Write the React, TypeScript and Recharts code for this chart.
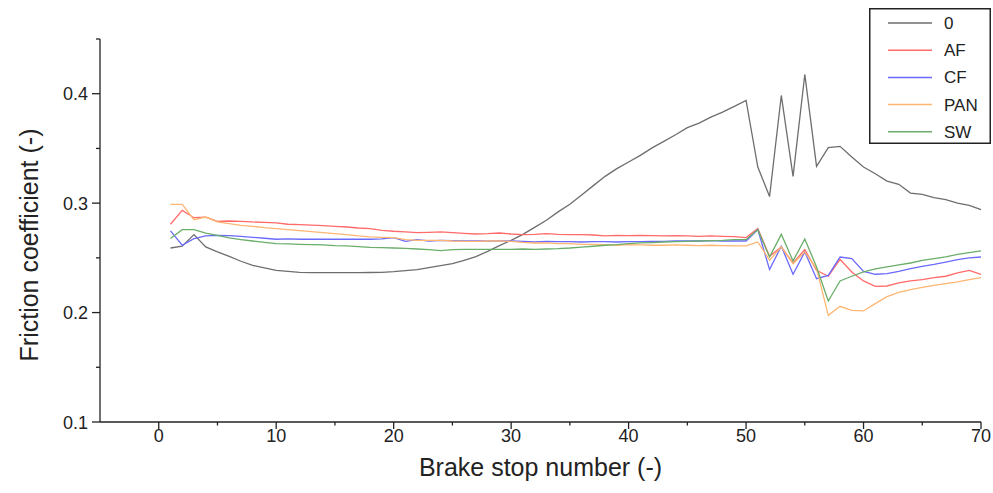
import React from 'react'
import { LineChart, Line, XAxis, YAxis, Legend } from 'recharts'

// Friction coefficient per brake stop, one array per fibre type
const stops = [
  1, 2, 3, 4, 5, 6, 7, 8, 9, 10, 11, 12, 13, 14, 15, 16, 17, 18, 19, 20,
  21, 22, 23, 24, 25, 26, 27, 28, 29, 30, 31, 32, 33, 34, 35, 36, 37, 38, 39, 40,
  41, 42, 43, 44, 45, 46, 47, 48, 49, 50, 51, 52, 53, 54, 55, 56, 57, 58, 59, 60,
  61, 62, 63, 64, 65, 66, 67, 68, 69, 70,
]

const ref0 = [
  0.259, 0.2606, 0.2712, 0.26, 0.2554, 0.2514, 0.2469, 0.2432, 0.2408, 0.2386,
  0.2377, 0.2368, 0.2365, 0.2365, 0.2365, 0.2365, 0.2365, 0.2366, 0.2368, 0.2374,
  0.2383, 0.2392, 0.241, 0.2429, 0.2447, 0.2478, 0.2511, 0.256, 0.2612, 0.266,
  0.2715, 0.2779, 0.2843, 0.292, 0.299, 0.3075, 0.316, 0.3245, 0.3315, 0.3376,
  0.3437, 0.3505, 0.3565, 0.3625, 0.369, 0.3732, 0.3786, 0.3832, 0.3884, 0.3939,
  0.333, 0.306, 0.3984, 0.3245, 0.4176, 0.3336, 0.3507, 0.3519, 0.3421, 0.333,
  0.3269, 0.3202, 0.3172, 0.3092, 0.308, 0.305, 0.3032, 0.3001, 0.298, 0.294,
]

const af = [
  0.2807, 0.2934, 0.2867, 0.2873, 0.2834, 0.2837, 0.2834, 0.2828, 0.2825, 0.2819,
  0.2807, 0.2803, 0.28, 0.2794, 0.2788, 0.2782, 0.2773, 0.2767, 0.2752, 0.2743,
  0.2737, 0.273, 0.2733, 0.2737, 0.273, 0.2724, 0.2718, 0.2721, 0.2727, 0.2718,
  0.2712, 0.2715, 0.2721, 0.2715, 0.2712, 0.2712, 0.2709, 0.27, 0.2706, 0.2703,
  0.2706, 0.2703, 0.27, 0.2703, 0.27, 0.2697, 0.27, 0.2697, 0.2694, 0.2685,
  0.2767, 0.2514, 0.26, 0.2453, 0.2575, 0.2386, 0.2332, 0.2487, 0.2371, 0.2289,
  0.224, 0.2243, 0.2271, 0.2289, 0.2301, 0.232, 0.2332, 0.2362, 0.2386, 0.235,
]

const cf = [
  0.2746, 0.2615, 0.2676, 0.27, 0.2706, 0.2703, 0.2697, 0.2688, 0.2679, 0.267,
  0.2673, 0.267, 0.267, 0.267, 0.267, 0.267, 0.267, 0.267, 0.2673, 0.2685,
  0.2651, 0.2666, 0.2654, 0.266, 0.2657, 0.2654, 0.2654, 0.2654, 0.2654, 0.2654,
  0.2651, 0.2645, 0.2651, 0.2648, 0.2648, 0.2645, 0.2648, 0.2648, 0.2645, 0.2648,
  0.2648, 0.2651, 0.2651, 0.2654, 0.2654, 0.2654, 0.2657, 0.2654, 0.2654, 0.2654,
  0.2758, 0.2393, 0.2606, 0.235, 0.2554, 0.231, 0.234, 0.2508, 0.2493, 0.2377,
  0.235, 0.2356, 0.2377, 0.2402, 0.2423, 0.2441, 0.2462, 0.2484, 0.2499, 0.2508,
]

const pan = [
  0.2989, 0.2989, 0.2849, 0.2873, 0.2828, 0.2813, 0.2797, 0.2788, 0.2776, 0.2767,
  0.2758, 0.2749, 0.274, 0.273, 0.2721, 0.2712, 0.27, 0.2691, 0.2688, 0.2685,
  0.2666, 0.266, 0.266, 0.266, 0.2654, 0.2651, 0.2651, 0.2654, 0.2654, 0.2651,
  0.2642, 0.2636, 0.2636, 0.263, 0.263, 0.2624, 0.2624, 0.2621, 0.2615, 0.2621,
  0.2618, 0.2615, 0.2615, 0.2618, 0.2615, 0.2612, 0.2615, 0.2612, 0.2609, 0.2609,
  0.2645, 0.2478, 0.26, 0.2447, 0.2554, 0.2402, 0.1975, 0.2057, 0.202, 0.2015,
  0.2082, 0.2146, 0.2185, 0.221, 0.2231, 0.2248, 0.2265, 0.2281, 0.2301, 0.232,
]

const sw = [
  0.2676, 0.2758, 0.2758, 0.2727, 0.2706, 0.2682, 0.2667, 0.2654, 0.2642, 0.263,
  0.2627, 0.2624, 0.2621, 0.2618, 0.2612, 0.2609, 0.2602, 0.2596, 0.2593, 0.259,
  0.2587, 0.2581, 0.2575, 0.2566, 0.2575, 0.2578, 0.2578, 0.2578, 0.2578, 0.2578,
  0.2581, 0.2578, 0.2581, 0.2584, 0.259, 0.2599, 0.2606, 0.2615, 0.2621, 0.263,
  0.2636, 0.264, 0.2645, 0.2648, 0.2651, 0.2654, 0.2657, 0.266, 0.2666, 0.2666,
  0.2758, 0.2508, 0.2715, 0.2472, 0.2673, 0.2417, 0.2106, 0.2289, 0.2332, 0.2371,
  0.2399, 0.2417, 0.2435, 0.2453, 0.2478, 0.2493, 0.2508, 0.2532, 0.2548, 0.2563,
]

const xTicks = [0, 5, 10, 15, 20, 25, 30, 35, 40, 45, 50, 55, 60, 65, 70]
const yTicks = [0.1, 0.15, 0.2, 0.25, 0.3, 0.35, 0.4, 0.45]

const series = [
  { key: 'ref0', name: '0', color: '#6e6e6e' },
  { key: 'af', name: 'AF', color: '#ff6a6a' },
  { key: 'cf', name: 'CF', color: '#6a6aff' },
  { key: 'pan', name: 'PAN', color: '#ffb673' },
  { key: 'sw', name: 'SW', color: '#6aae6a' },
]

const data = stops.map((n, i) => ({
  n,
  ref0: ref0[i],
  af: af[i],
  cf: cf[i],
  pan: pan[i],
  sw: sw[i],
}))

const FONT = '"Liberation Sans", Arial, sans-serif'
const AXIS = '#222'

// major ticks every 10 with labels, short minor ticks in between
const XTick = ({ x, y, payload }: any) => {
  const major = payload.value % 10 === 0
  return (
    <g>
      <line x1={x} x2={x} y1={y} y2={y + (major ? 7 : 3.5)} stroke={AXIS} strokeWidth={1.3} />
      {major && (
        <text x={x} y={y + 20} textAnchor="middle" fontSize={18} fill="#222" fontFamily={FONT}>
          {payload.value}
        </text>
      )}
    </g>
  )
}

const YTick = ({ x, y, payload }: any) => {
  const v = payload.value
  const major = Math.abs(v * 10 - Math.round(v * 10)) < 1e-6
  return (
    <g>
      <line x1={x} x2={x - (major ? 8 : 4)} y1={y} y2={y} stroke={AXIS} strokeWidth={1.3} />
      {major && (
        <text x={x - 12} y={y + 6.5} textAnchor="end" fontSize={18} fill="#222" fontFamily={FONT}>
          {v.toFixed(1)}
        </text>
      )}
    </g>
  )
}

const LegendBox = () => (
  <svg width={122} height={136} style={{ display: 'block' }}>
    <rect x={0.75} y={0.75} width={120.5} height={134.5} fill="#fff" stroke="#222" strokeWidth={1.5} />
    {series.map((s, i) => {
      const cy = 15 + i * 27.2
      return (
        <g key={s.key}>
          <line x1={19} x2={63} y1={cy} y2={cy} stroke={s.color} strokeWidth={1.5} />
          <text x={75} y={cy + 6} fontSize={17} fill="#222" fontFamily={FONT}>
            {s.name}
          </text>
        </g>
      )
    })}
  </svg>
)

export default function App() {
  return (
    <div style={{ position: 'absolute', left: 0, top: 0, width: 993, height: 493, background: '#fff' }}>
      <LineChart width={993} height={493} data={data} margin={{ top: 39, right: 12, bottom: 0, left: 0 }}>
        <XAxis
          dataKey="n"
          type="number"
          domain={[-5, 70]}
          ticks={xTicks}
          interval={0}
          height={71}
          tickSize={0}
          tickMargin={0}
          tickLine={false}
          tick={<XTick />}
          axisLine={{ stroke: AXIS, strokeWidth: 1.3 }}
          label={{
            value: 'Brake stop number (-)',
            position: 'insideBottom',
            offset: 17,
            fontSize: 25,
            fill: '#222',
            fontFamily: FONT,
          }}
        />
        <YAxis
          type="number"
          domain={[0.1, 0.45]}
          ticks={yTicks}
          interval={0}
          width={100}
          tickSize={0}
          tickMargin={0}
          tickLine={false}
          tick={<YTick />}
          axisLine={{ stroke: AXIS, strokeWidth: 1.3 }}
          label={{
            content: () => (
              <text
                x={29}
                y={245}
                transform="rotate(-90 29 245)"
                textAnchor="middle"
                dominantBaseline="central"
                fontSize={25}
                fill="#222"
                fontFamily={FONT}
              >
                Friction coefficient (-)
              </text>
            ),
          }}
        />
        {series.map((s) => (
          <Line
            key={s.key}
            type="linear"
            dataKey={s.key}
            name={s.name}
            stroke={s.color}
            strokeWidth={1.3}
            dot={false}
            activeDot={false}
            isAnimationActive={false}
          />
        ))}
        <Legend
          layout="vertical"
          align="center"
          verticalAlign="middle"
          content={<LegendBox />}
          wrapperStyle={{ position: 'absolute', left: 869, top: 8, width: 122, height: 136 }}
        />
      </LineChart>
    </div>
  )
}
